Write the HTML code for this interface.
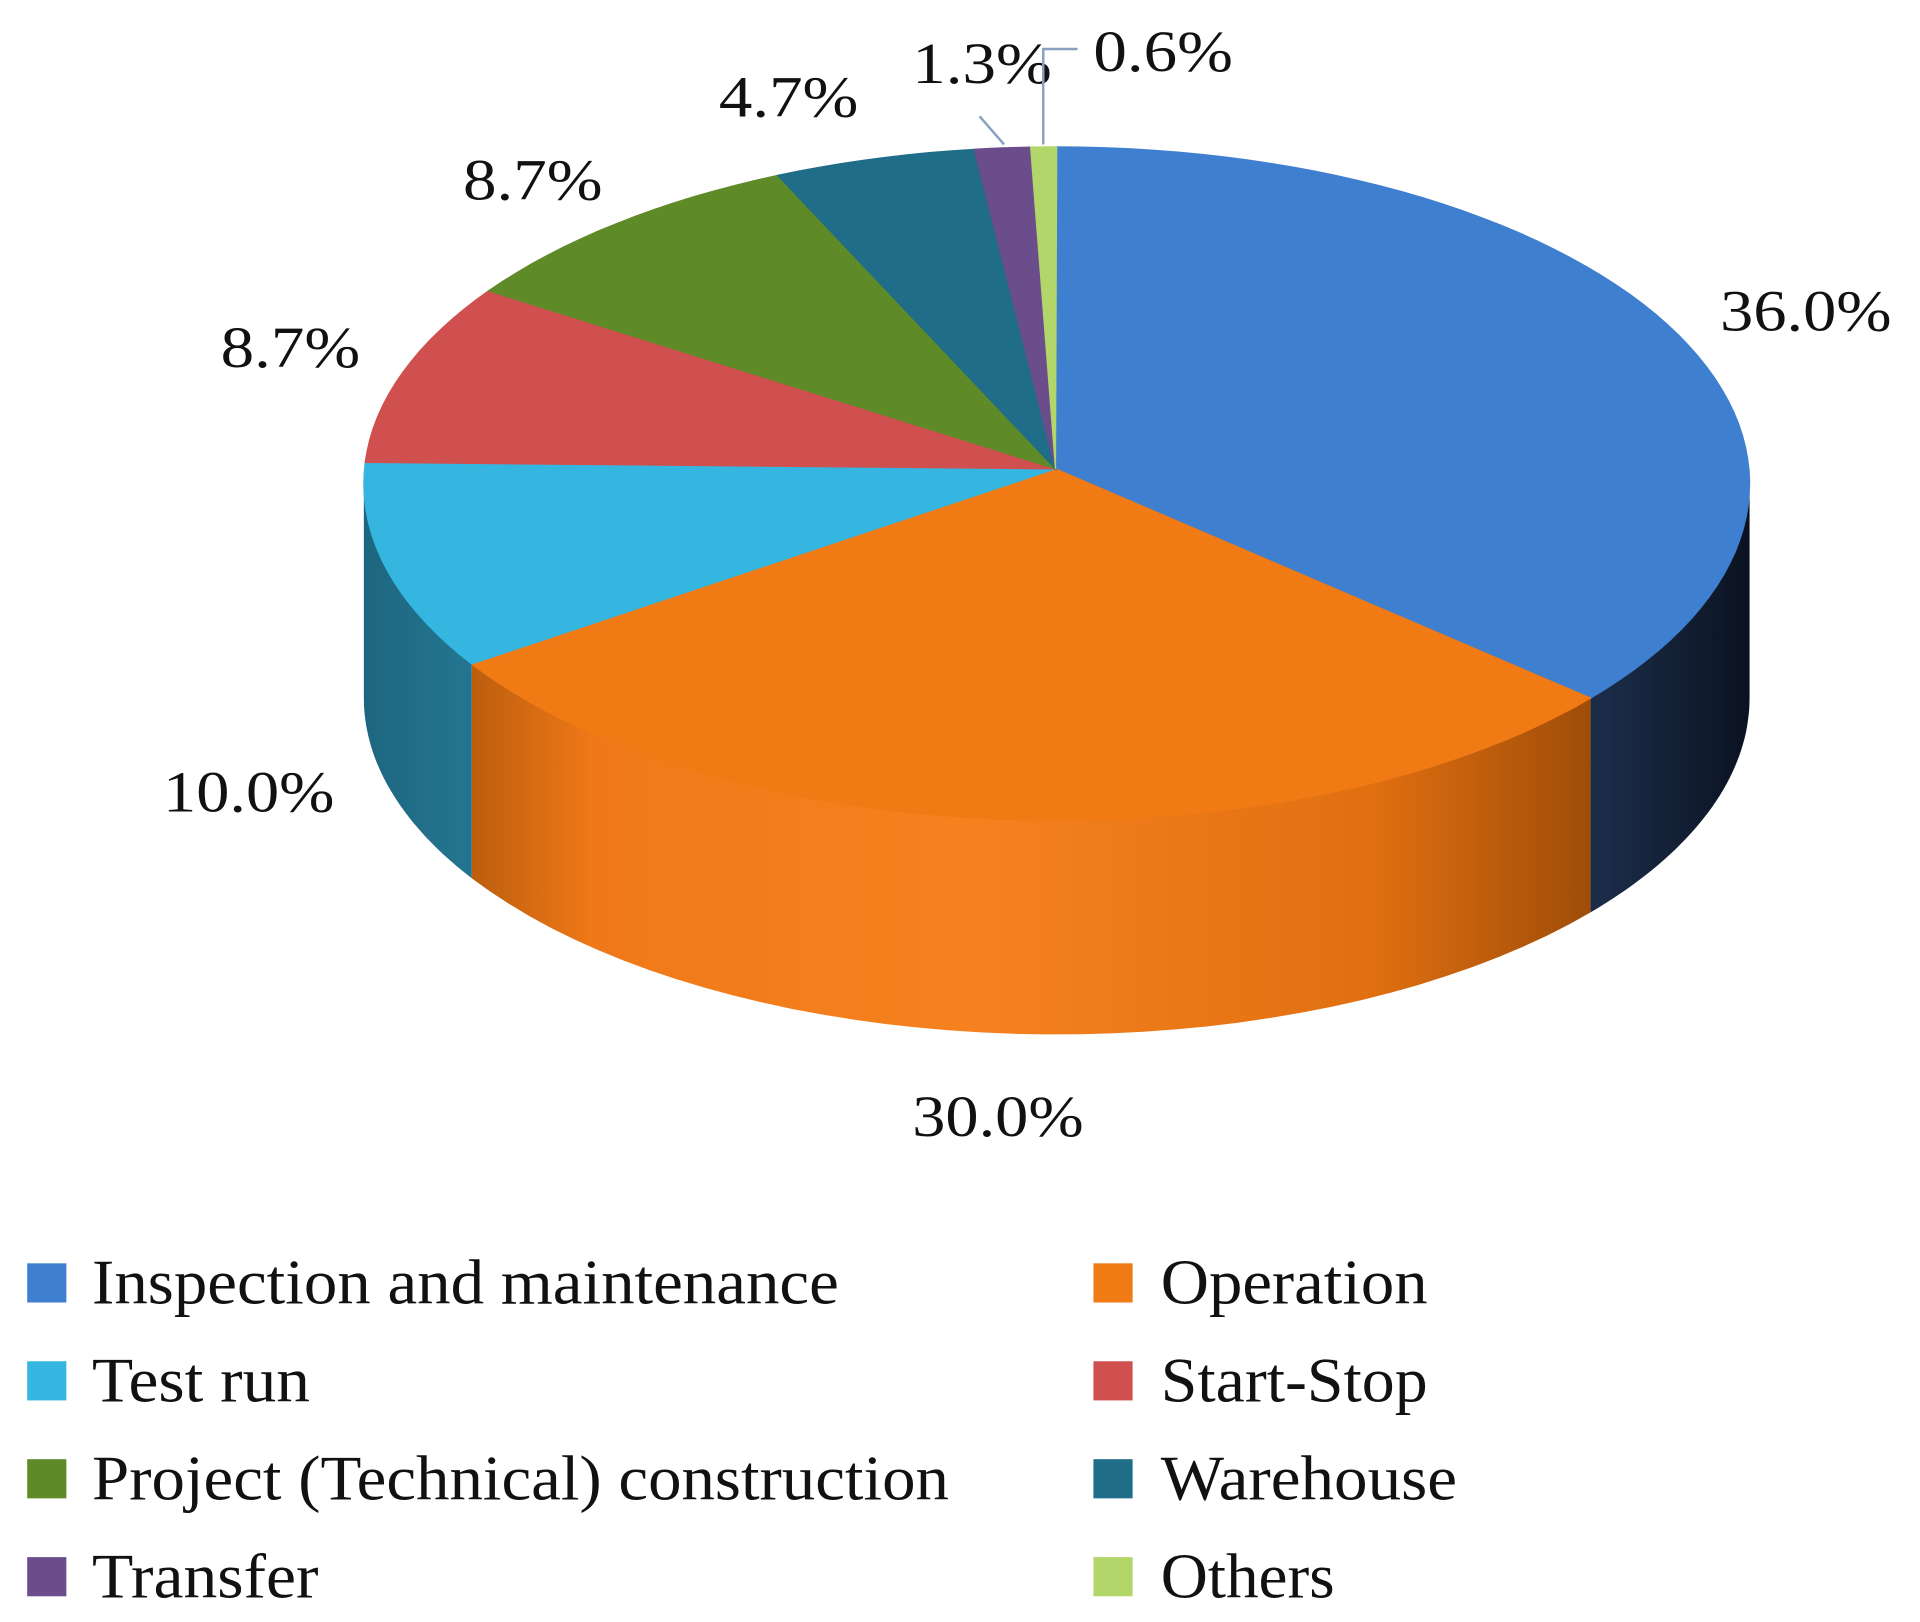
<!DOCTYPE html>
<html><head><meta charset="utf-8"><style>html,body{margin:0;padding:0;background:#fff}svg{display:block}</style></head>
<body>
<svg id="chart" width="1920" height="1622" viewBox="0 0 1568 1325" xmlns="http://www.w3.org/2000/svg" font-family="'Liberation Serif', serif">
<defs>
<linearGradient id="gOr" x1="370" x2="1312" y1="0" y2="0" gradientUnits="userSpaceOnUse">
<stop offset="0" stop-color="#b35a0c"/><stop offset="0.12" stop-color="#f07818"/><stop offset="0.45" stop-color="#f5821e"/><stop offset="0.8" stop-color="#e06f10"/><stop offset="1" stop-color="#9a4a08"/></linearGradient>
<linearGradient id="gBl" x1="1312" x2="1430" y1="0" y2="0" gradientUnits="userSpaceOnUse">
<stop offset="0" stop-color="#1b2c48"/><stop offset="1" stop-color="#0a1220"/></linearGradient>
<linearGradient id="gTe" x1="297" x2="375" y1="0" y2="0" gradientUnits="userSpaceOnUse">
<stop offset="0" stop-color="#1d6680"/><stop offset="1" stop-color="#24748f"/></linearGradient>
</defs>
<g id="slices"></g>
<g id="labels" font-size="48" fill="#111"></g>
<path d="M800 95 L820 118" stroke="#8aa0c0" stroke-width="2" fill="none"/>
<path d="M880 40 L852 40 L852 118" stroke="#8aa0c0" stroke-width="2" fill="none"/>
<g id="legend" font-size="52" fill="#111"></g>
</svg>
<script>
const categories = ["Inspection and maintenance","Operation","Test run","Start-Stop","Project (Technical) construction","Warehouse","Transfer","Others"];
const values = [36.0,30.0,10.0,8.7,8.7,4.7,1.3,0.6];
const valueLabels = ["36.0%","30.0%","10.0%","8.7%","8.7%","4.7%","1.3%","0.6%"];
const colors = ["#3f7fcf","#f07a14","#35b6e0","#d0504f","#5f8a28","#1f6d88","#6b4d8c","#b3d66a"];
const sideFills = ["url(#gBl)","url(#gOr)","url(#gTe)","#8a2f2e","#3d5a18","#144a5c","#40305a","#7a9540"];
const NS="http://www.w3.org/2000/svg";
const cx=863, cy=395, rx=566, ry=275, depth=175, apexX=862, apexY=383;
function pt(deg,dy){const a=deg*Math.PI/180;return [cx+rx*Math.sin(a), cy-ry*Math.cos(a)+(dy||0)];}
const total=values.reduce((a,b)=>a+b,0);
const gS=document.getElementById('slices');
let start=0; const ranges=[];
values.forEach(v=>{const e=start+v/total*360;ranges.push([start,e]);start=e;});
ranges.forEach((r,i)=>{
  const s=Math.max(r[0],90), e=Math.min(r[1],270);
  if(e<=s) return;
  const n=40; let d="";
  for(let k=0;k<=n;k++){const p=pt(s+(e-s)*k/n);d+=(k?"L":"M")+p[0].toFixed(1)+" "+p[1].toFixed(1);}
  for(let k=n;k>=0;k--){const p=pt(s+(e-s)*k/n,depth);d+="L"+p[0].toFixed(1)+" "+p[1].toFixed(1);}
  d+="Z";
  const el=document.createElementNS(NS,'path');
  el.setAttribute('d',d);el.setAttribute('fill',sideFills[i]);
  
  
  gS.appendChild(el);
});
ranges.forEach((r,i)=>{
  const n=Math.max(4,Math.ceil((r[1]-r[0])/2));
  let d="M"+apexX+" "+apexY;
  for(let k=0;k<=n;k++){const p=pt(r[0]+(r[1]-r[0])*k/n);d+="L"+p[0].toFixed(1)+" "+p[1].toFixed(1);}
  d+="Z";
  const el=document.createElementNS(NS,'path');
  el.setAttribute('d',d);el.setAttribute('fill',colors[i]);
  el.setAttribute('stroke',colors[i]);el.setAttribute('stroke-width','1');
  
  
  gS.appendChild(el);
});
const gL=document.getElementById('labels');
const labelPos=[[1405,270],[745,928],[133,663],[180,300],[378,163],[587,95],[745,68],[893,58]];
valueLabels.forEach((t,i)=>{
  const el=document.createElementNS(NS,'text');
  el.setAttribute('x',labelPos[i][0]);el.setAttribute('y',labelPos[i][1]);
  el.setAttribute('textLength',t.length===5?140:114);
  el.setAttribute('lengthAdjust','spacingAndGlyphs');
  el.textContent=t;
  
  
  gL.appendChild(el);
});
const gG=document.getElementById('legend');
const legW=[610,218,178,218,700,242,185,142];
categories.forEach((c,i)=>{
  const col=i%2, row=Math.floor(i/2);
  const mx=col?893:22, tx=col?948:75, yc=1048+row*80;
  const r=document.createElementNS(NS,'rect');
  r.setAttribute('x',mx);r.setAttribute('y',yc-16);r.setAttribute('width',32);r.setAttribute('height',32);
  r.setAttribute('fill',colors[i]);
  
  
  gG.appendChild(r);
  const t=document.createElementNS(NS,'text');
  t.setAttribute('x',tx);t.setAttribute('y',yc+17);
  t.setAttribute('textLength',legW[i]);
  t.setAttribute('lengthAdjust','spacingAndGlyphs');
  t.textContent=c;
  
  
  gG.appendChild(t);
});
</script>
</body></html>
